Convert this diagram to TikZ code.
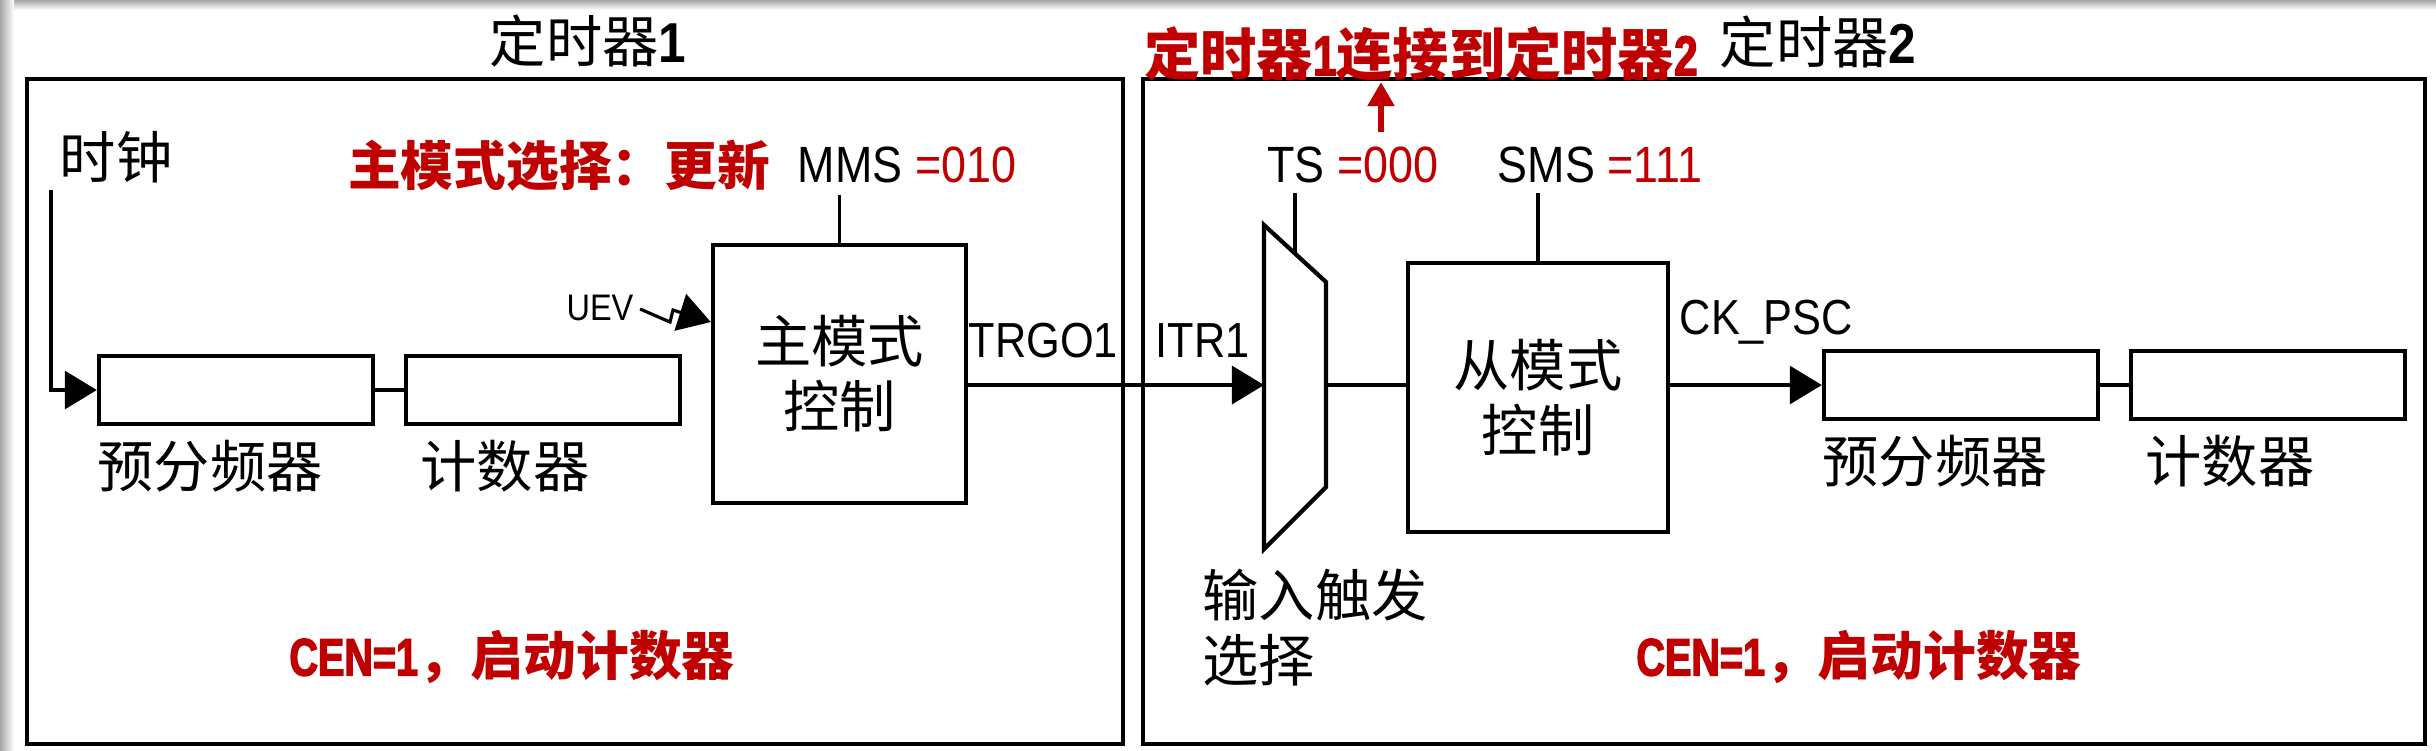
\documentclass[tikz,border=0pt]{standalone}
\usepackage{fontspec}
\setmainfont{Liberation Sans}[FakeStretch=0.88]
\newfontfamily\cjk{Noto Sans CJK SC}
\newfontfamily\narrowbf{Liberation Sans}[FakeStretch=0.75, FakeBold=2.5]
\usetikzlibrary{arrows.meta,calc,positioning}
\definecolor{cenred}{RGB}{192,0,0}
\newcommand{\nbf}[1]{{\narrowbf #1}}

\begin{document}
\begin{tikzpicture}[x=0.01cm, y=-0.01cm]
    \tikzstyle{timerframe} = [draw, line width=1pt]
    \tikzstyle{regbox} = [draw, line width=1.2pt, inner sep=0pt, minimum width=2.74cm, minimum height=0.68cm]
    \tikzstyle{ctrlbox} = [draw, line width=1.2pt, inner sep=0pt, align=center, font=\cjk\fontsize{16}{18.5}\selectfont]
    \tikzstyle{wire} = [line width=0.9pt]
    \tikzstyle{sig} = [wire, -{Triangle[length=0.32cm, width=0.38cm]}]
    \tikzstyle{redarrow} = [cenred, line width=1.6pt, -{Triangle[length=0.24cm, width=0.26cm]}]
    \tikzstyle{cjklbl} = [inner sep=0pt, font=\cjk\fontsize{16}{18.5}\selectfont]
    \tikzstyle{redlbl} = [inner sep=0pt, text=cenred, font=\cjk\bfseries\fontsize{15}{18}\selectfont]
    \tikzstyle{siglbl} = [inner sep=0pt, font=\fontsize{14}{16}\selectfont]

    \useasboundingbox (0,0) rectangle (2436,750);

    % Screenshot shadow on top and left
    \shade[top color=black!35, bottom color=white] (0,0) rectangle (2436,10);
    \shade[left color=black!35, right color=white] (0,0) rectangle (14,750);

    % Timer frames and titles
    \draw[timerframe] (27,79) rectangle (1123,744);
    \draw[timerframe] (1143,79) rectangle (2425,744);
    \node[cjklbl] (title1) at (588,41) {定时器{\rmfamily\bfseries 1}};
    \node[cjklbl] (title2) at (1818,42) {定时器{\rmfamily\bfseries 2}};
    \node[redlbl, font=\cjk\bfseries\fontsize{16}{18}\selectfont] (link) at (1421,54) {定时器\nbf{1}连接到定时器\nbf{2}};

    % Prescaler and counter of both timers
    \foreach \n/\x/\y in {1/236/390, 2/1961/385} {
        \node[regbox] (psc\n) at (\x,\y) {};
        \node[regbox] (cnt\n) at (\x+307,\y) {};
        \draw[wire] (psc\n) -- (cnt\n);
        \node[cjklbl, anchor=west] (psclbl\n) at ([yshift=-0.4cm]psc\n.south west) {预分频器};
        \node[cjklbl, anchor=west] (cntlbl\n) at ([xshift=0.16cm, yshift=-0.4cm]cnt\n.south west) {计数器};
    }

    % Timer 1: clock and master mode control
    \node[cjklbl] (clklbl) at (116,157) {时钟};
    \coordinate (clk) at (51,190);
    \draw[sig] (clk) |- (psc1.west);

    \node[ctrlbox, minimum width=2.53cm, minimum height=2.58cm] (master) at (839.5,374) {主模式\\控制};
    \node[redlbl] (mmsred) at (559,166) {主模式选择：更新};
    \node[inner sep=0pt, font=\fontsize{14.5}{16}\selectfont] (mms) at (907,165) {MMS \textcolor{cenred}{=010}};
    \draw[wire] (master.north) -- ++(0,-48);

    \node[inner sep=0pt, font=\fontsize{10.5}{12}\selectfont] (uev) at (600,308) {UEV};
    \coordinate (uev tip) at (master.west |- 0,322);
    \draw[sig] (uev.east) ++(6,1) -- (670,322) -- (673,310) -- (uev tip);

    \node[redlbl] (cen1) at (512,657) {\nbf{CEN=1}，启动计数器};

    % Timer 2: input trigger selection and slave mode control
    \coordinate (mux tl) at (1264,225);
    \coordinate (mux tr) at (1326,282);
    \coordinate (mux br) at (1326,487);
    \coordinate (mux bl) at (1264,549);
    \draw[line width=1.2pt] (mux tl) -- (mux tr) -- (mux br) -- (mux bl) -- cycle;
    \coordinate (mux in) at (1264,385);
    \coordinate (mux out) at (1326,385);
    \coordinate (ts foot) at ($(mux tl)!0.5!(mux tr)$);

    \node[siglbl, anchor=base west] (trgo) at (968,357) {TRGO1};
    \node[siglbl, anchor=base west] (itr) at (1155,357) {ITR1};
    \draw[sig] (master.east |- mux in) -- (mux in);

    \node[inner sep=0pt, font=\fontsize{14.5}{16}\selectfont] (ts) at (1353,165) {TS \textcolor{cenred}{=000}};
    \draw[wire] (ts foot |- 0,193) -- (ts foot);
    \coordinate (ts top) at (1381,132);
    \draw[redarrow] (ts top) -- (ts top |- link.south);

    \node[cjklbl, anchor=north west, align=left] (muxlbl) at (1202,568) {输入触发\\选择};

    \node[ctrlbox, minimum width=2.60cm, minimum height=2.69cm] (slave) at (1538,397.5) {从模式\\控制};
    \node[inner sep=0pt, font=\fontsize{14.5}{16}\selectfont] (sms) at (1600,165) {SMS \textcolor{cenred}{=111}};
    \draw[wire] (slave.north) -- ++(0,-68);
    \draw[wire] (mux out) -- (slave.west |- mux out);

    \node[siglbl, anchor=base west] (ckpsc) at (1679,334) {CK\_PSC};
    \draw[sig] (slave.east |- psc2.west) -- (psc2.west);

    \node[redlbl] (cen2) at (1859,657) {\nbf{CEN=1}，启动计数器};
\end{tikzpicture}
\end{document}
